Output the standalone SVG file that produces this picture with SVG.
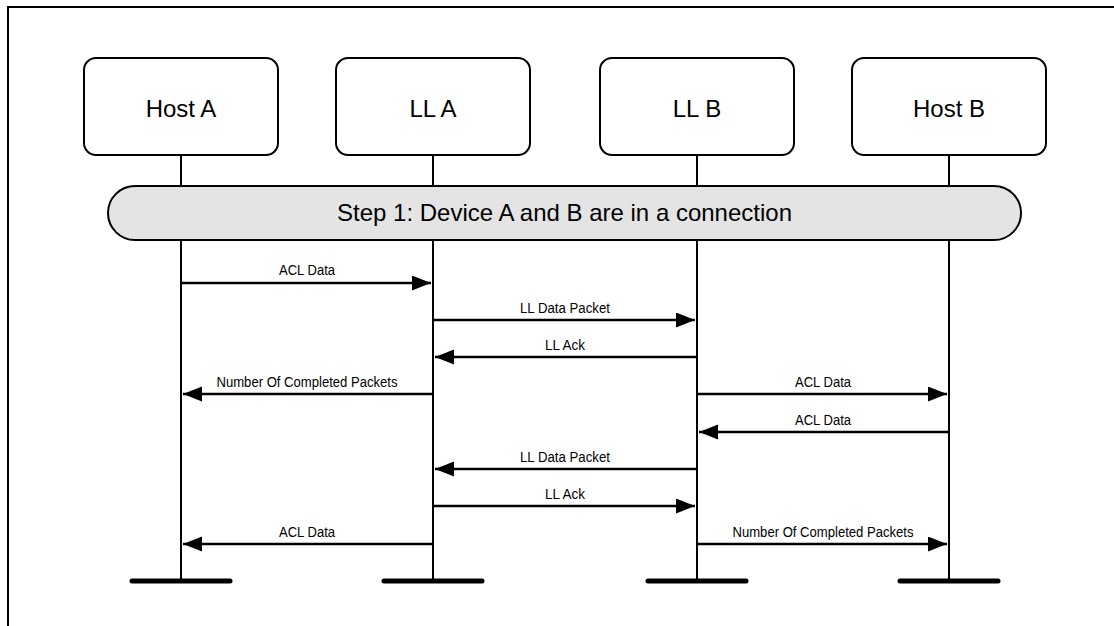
<svg xmlns="http://www.w3.org/2000/svg" width="1114" height="626" viewBox="0 0 1114 626">
<style>
.frame{stroke:#000;stroke-width:2;fill:none}
.box{fill:#fff;stroke:#000;stroke-width:2}
.bar{fill:#e4e4e4;stroke:#000;stroke-width:2}
.life{stroke:#000;stroke-width:2;fill:none}
.term{stroke:#000;stroke-width:5;stroke-linecap:round}
.msg{stroke:#000;stroke-width:2.5;fill:none;marker-end:url(#ah)}
.big{font-family:"Liberation Sans",Arial,sans-serif;font-size:24px;fill:#000;text-anchor:middle}
.lbl{font-family:"Liberation Sans",Arial,sans-serif;font-size:14px;fill:#000;text-anchor:middle}
</style>
<defs>
<marker id="ah" markerUnits="userSpaceOnUse" markerWidth="20" markerHeight="16" refX="19" refY="7.5" orient="auto">
<path d="M0,0 L19,7.5 L0,15 z" fill="#000"/>
</marker>
</defs>
<rect x="0" y="0" width="1114" height="626" fill="#fff"/>
<path class="frame" d="M8,626 L8,7 L1114,7"/>
<g id="lifelines">
<path class="life" d="M181,155 V186 M181,240 V581"/>
<path class="life" d="M433,155 V186 M433,240 V581"/>
<path class="life" d="M697,155 V186 M697,240 V581"/>
<path class="life" d="M949,155 V186 M949,240 V581"/>
<line class="term" x1="132" y1="581" x2="230" y2="581"/>
<line class="term" x1="384" y1="581" x2="482" y2="581"/>
<line class="term" x1="648" y1="581" x2="746" y2="581"/>
<line class="term" x1="900" y1="581" x2="998" y2="581"/>
</g>
<g id="hostA">
<rect class="box" x="84" y="58" width="194" height="97" rx="12"/>
<text class="big" x="181" y="117">Host A</text>
</g>
<g id="llA">
<rect class="box" x="336" y="58" width="194" height="97" rx="12"/>
<text class="big" x="433" y="117">LL A</text>
</g>
<g id="llB">
<rect class="box" x="600" y="58" width="194" height="97" rx="12"/>
<text class="big" x="697" y="117">LL B</text>
</g>
<g id="hostB">
<rect class="box" x="852" y="58" width="194" height="97" rx="12"/>
<text class="big" x="949" y="117">Host B</text>
</g>
<g id="step1">
<rect class="bar" x="108" y="186" width="913" height="54" rx="27"/>
<text class="big" x="564.5" y="221">Step 1: Device A and B are in a connection</text>
</g>
<g id="connectors">
<line class="msg" x1="181" y1="283" x2="431" y2="283"/>
<text class="lbl" x="307" y="275" textLength="56" lengthAdjust="spacingAndGlyphs">ACL Data</text>
<line class="msg" x1="433" y1="320" x2="695" y2="320"/>
<text class="lbl" x="565" y="312.5" textLength="90" lengthAdjust="spacingAndGlyphs">LL Data Packet</text>
<line class="msg" x1="697" y1="357" x2="435" y2="357"/>
<text class="lbl" x="565" y="349.5" textLength="40" lengthAdjust="spacingAndGlyphs">LL Ack</text>
<line class="msg" x1="433" y1="394" x2="183" y2="394"/>
<text class="lbl" x="307" y="387" textLength="181" lengthAdjust="spacingAndGlyphs">Number Of Completed Packets</text>
<line class="msg" x1="697" y1="394" x2="947" y2="394"/>
<text class="lbl" x="823" y="387" textLength="56" lengthAdjust="spacingAndGlyphs">ACL Data</text>
<line class="msg" x1="949" y1="432" x2="699" y2="432"/>
<text class="lbl" x="823" y="424.5" textLength="56" lengthAdjust="spacingAndGlyphs">ACL Data</text>
<line class="msg" x1="697" y1="469" x2="435" y2="469"/>
<text class="lbl" x="565" y="461.5" textLength="90" lengthAdjust="spacingAndGlyphs">LL Data Packet</text>
<line class="msg" x1="433" y1="506" x2="695" y2="506"/>
<text class="lbl" x="565" y="498.5" textLength="40" lengthAdjust="spacingAndGlyphs">LL Ack</text>
<line class="msg" x1="433" y1="544" x2="183" y2="544"/>
<text class="lbl" x="307" y="536.5" textLength="56" lengthAdjust="spacingAndGlyphs">ACL Data</text>
<line class="msg" x1="697" y1="544" x2="947" y2="544"/>
<text class="lbl" x="823" y="536.5" textLength="181" lengthAdjust="spacingAndGlyphs">Number Of Completed Packets</text>
</g>
</svg>
